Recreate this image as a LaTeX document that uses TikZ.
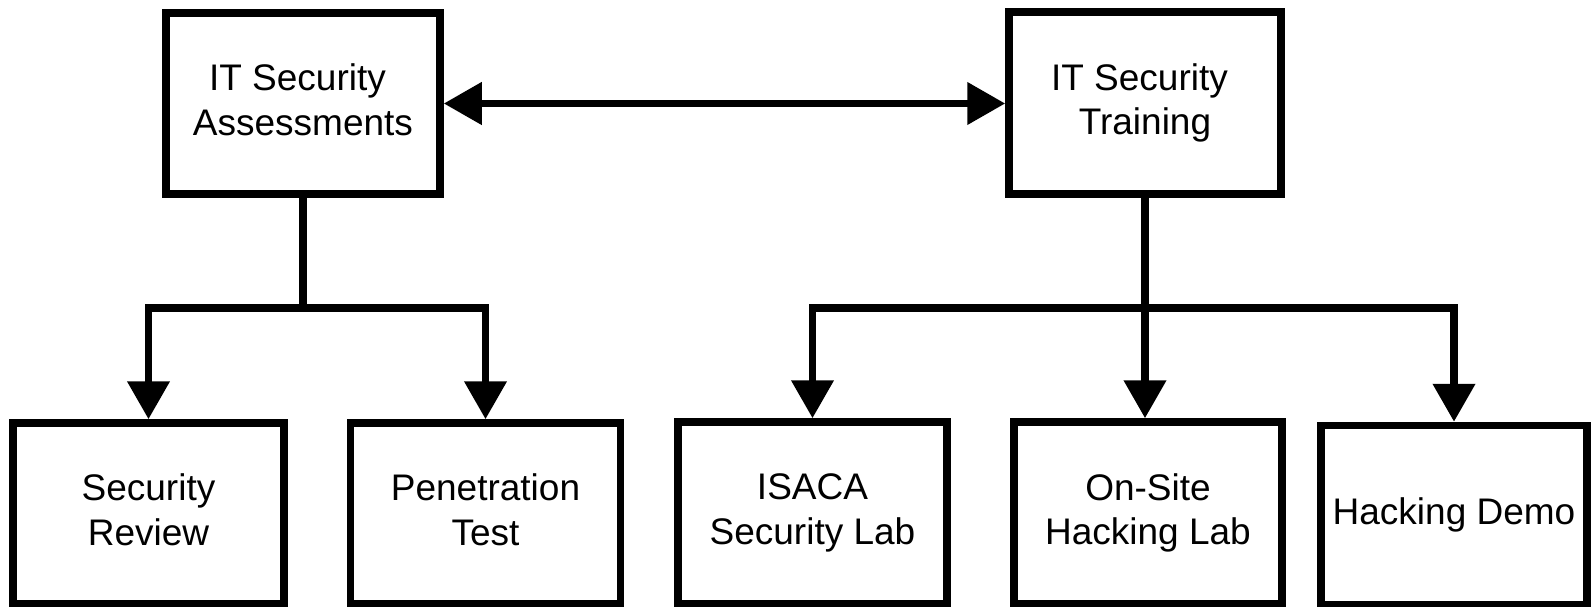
\documentclass[tikz,border=0pt]{standalone}
\usepackage{fontspec}
\setmainfont{Liberation Sans}
\usetikzlibrary{arrows.meta,calc}

\tikzset{
  box/.style={draw=black, line width=7.5pt, rectangle, inner sep=0pt,
    align=center, font=\fontsize{37pt}{44.5pt}\selectfont,
    minimum height=181pt},
  wire/.style={line width=7.5pt, draw=black},
  link/.style={wire, -{Triangle[length=38pt,width=41pt]}},
  biLink/.style={wire, {Triangle[length=38pt,width=41pt]}-{Triangle[length=38pt,width=41pt]}}
}

\begin{document}
\begin{tikzpicture}[x=1pt, y=-1pt]
  \useasboundingbox (0,0) rectangle (1591,607);

  % top level
  \node[box, minimum width=274pt] (assess) at (303,103.5)
    {IT Security\hspace*{0.3em}\\Assessments\vphantom{g}};
  \node[box, minimum width=272pt, minimum height=182pt] (train) at (1145,103)
    {IT Security\hspace*{0.3em}\\Training};

  % second level
  \node[box, minimum width=271pt] (review) at (148.5,513.5)
    {Security\\Review\vphantom{g}};
  \node[box, minimum width=270pt] (pentest) at (485.5,513.5)
    {Penetration\\Test\vphantom{g}};
  \node[box, minimum width=269pt, minimum height=182pt] (isaca) at (812.5,513)
    {ISACA\\Security Lab\vphantom{g}};
  \node[box, minimum width=268pt, minimum height=182pt] (onsite) at (1148,513)
    {On-Site\\Hacking Lab};
  \node[box, minimum width=266pt, minimum height=179pt] (demo) at (1454,515)
    {Hacking Demo};

  % two-way link between the top boxes
  \draw[biLink] (assess.east) -- (assess.east -| train.west);

  % assessments branch
  \path (assess.south) ++(0,110) coordinate (jA);
  \draw[wire] (assess.south) -- (jA);
  \draw[link] (jA) -| (review.north);
  \draw[link] (jA) -| (pentest.north);

  % training branch
  \coordinate (jB) at (train.south |- jA);
  \draw[link] (train.south) -- (train.south |- onsite.north);
  \draw[link] (jB) -| (isaca.north);
  \draw[link] (jB) -| (demo.north);
\end{tikzpicture}
\end{document}
